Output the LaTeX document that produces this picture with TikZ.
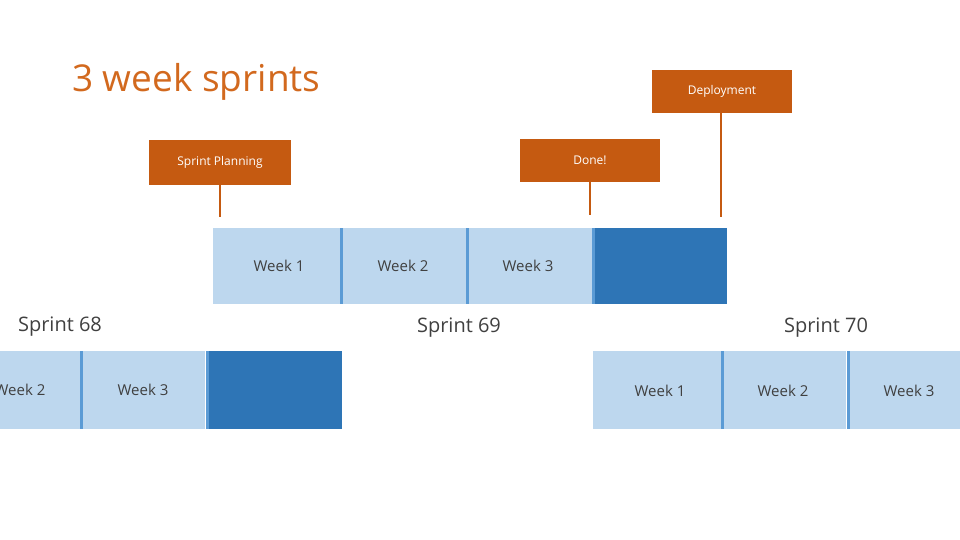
\documentclass[tikz,border=0pt]{standalone}
\usepackage{fontspec}
\setmainfont{Open Sans}
\definecolor{ttl}{HTML}{D2691E}
\definecolor{box}{HTML}{C55A11}
\definecolor{lb}{HTML}{BDD7EE}
\definecolor{db}{HTML}{2E75B6}
\definecolor{sep}{HTML}{5B9BD5}
\definecolor{txt}{HTML}{404040}
\begin{document}
\begin{tikzpicture}[x=1pt,y=-1pt,
  lab/.style={draw=none,fill=box,text=white,font=\fontsize{12}{14}\selectfont},
  wk/.style={fill=lb},
  dk/.style={fill=db},
  sp/.style={draw=sep,line width=3pt},
  wt/.style={text=txt,font=\fontsize{15}{17}\selectfont},
  st/.style={text=txt,font=\fontsize{20}{23}\selectfont},
  ln/.style={draw=box,line width=2.5pt}]
\useasboundingbox (0,0) rectangle (960,540);
\clip (0,0) rectangle (960,540);
\node[text=ttl,font=\fontsize{37}{40}\selectfont,anchor=west,inner sep=0pt] (title) at (72,82) {3 week sprints};
% top row
\fill[wk] (213,228) rectangle (340,304);
\fill[wk] (343,228) rectangle (466,304);
\fill[wk] (469,228) rectangle (592,304);
\fill[dk] (595,228) rectangle (727,304);
\draw[sp] (341.5,228) -- (341.5,304);
\draw[sp] (467.5,228) -- (467.5,304);
\draw[sp] (593.5,228) -- (593.5,304);
\node[wt] (t1) at (279,266) {Week 1};
\node[wt] (t2) at (403,266) {Week 2};
\node[wt] (t3) at (528,266) {Week 3};
% labels
\node[lab,minimum width=142pt,minimum height=45pt] (plan) at (220,162.5) {Sprint Planning};
\node[lab,minimum width=140pt,minimum height=43pt] (done) at (590,160.5) {Done!};
\node[lab,minimum width=140pt,minimum height=43pt] (dep) at (722,91.5) {Deployment};
\coordinate (pe) at (220,217);
\coordinate (de) at (590,215);
\coordinate (ee) at (721,217);
\draw[ln] (plan.south) -- (pe);
\draw[ln] (done.south) -- (de);
\draw[ln] (dep.south -| ee) -- (ee);
% sprint titles
\node[st] (s68) at (60,327) {Sprint 68};
\node[st] (s69) at (459,328) {Sprint 69};
\node[st] (s70) at (826,328) {Sprint 70};
% bottom row left
\fill[wk] (0,351) rectangle (80,429);
\fill[wk] (83,351) rectangle (205,429);
\fill[dk] (209,351) rectangle (342,429);
\draw[sp] (81.5,351) -- (81.5,429);
\draw[sp] (207,351) -- (207,429);
\node[wt] (b1) at (20,390) {Week 2};
\node[wt] (b2) at (143,390) {Week 3};
% bottom row right
\fill[wk] (593,351) rectangle (721,429);
\fill[wk] (724,351) rectangle (846,429);
\fill[wk] (850,351) rectangle (960,429);
\draw[sp] (722.5,351) -- (722.5,429);
\draw[sp] (848,351) -- (848,429);
\node[wt] (c1) at (660,391) {Week 1};
\node[wt] (c2) at (783,391) {Week 2};
\node[wt] (c3) at (909,391) {Week 3};
\end{tikzpicture}
\end{document}
